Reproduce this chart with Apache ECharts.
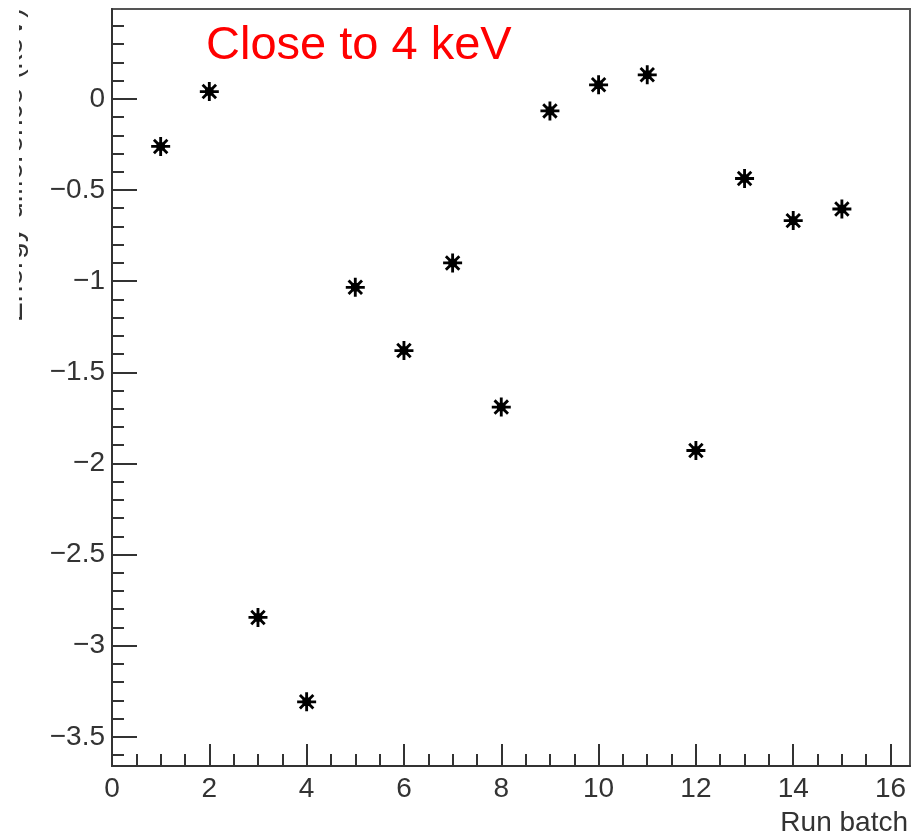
<!DOCTYPE html>
<html>
<head>
<meta charset="utf-8">
<script src="https://cdn.jsdelivr.net/npm/echarts@6/dist/echarts.min.js"></script>
<style>
html,body{margin:0;padding:0;background:#fff;}
#chart{width:913px;height:837px;}
</style>
</head>
<body>
<div id="chart"></div>
<script>
// ---- data ----
const runBatch = [1, 2, 3, 4, 5, 6, 7, 8, 9, 10, 11, 12, 13, 14, 15];
const energyDiff = [-0.261, 0.040, -2.845, -3.308, -1.034, -1.381, -0.900, -1.691, -0.066, 0.077, 0.132, -1.929, -0.437, -0.668, -0.604];

const xMajorTicks = [0, 2, 4, 6, 8, 10, 12, 14, 16];
const xTickLabels = ['0', '2', '4', '6', '8', '10', '12', '14', '16'];
const xMinorTicks = [0.5, 1, 1.5, 2.5, 3, 3.5, 4.5, 5, 5.5, 6.5, 7, 7.5, 8.5, 9, 9.5, 10.5, 11, 11.5, 12.5, 13, 13.5, 14.5, 15, 15.5];

const yMajorTicks = [0, -0.5, -1, -1.5, -2, -2.5, -3, -3.5];
const yTickLabels = ['0', '\u22120.5', '\u22121', '\u22121.5', '\u22122', '\u22122.5', '\u22123', '\u22123.5'];
const yMinorTicks = [0.4, 0.3, 0.2, 0.1, -0.1, -0.2, -0.3, -0.4, -0.6, -0.7, -0.8, -0.9, -1.1, -1.2, -1.3, -1.4,
  -1.6, -1.7, -1.8, -1.9, -2.1, -2.2, -2.3, -2.4, -2.6, -2.7, -2.8, -2.9, -3.1, -3.2, -3.3, -3.4, -3.6];

const xRange = [0, 16.4];
const yRange = [-3.66, 0.493];

const xTitle = 'Run batch';
const yTitle = 'Energy difference (keV)';
const annotation = 'Close to 4 keV';

// ---- chart ----
const FONT = '"Liberation Sans", Arial, Helvetica, sans-serif';
const AX = '#333';
const asterisk = 'path://M0 8.5L20 8.5L20 11.5L0 11.5Z M8.5 0L11.5 0L11.5 20L8.5 20Z ' +
  'M1.86 3.98L3.98 1.86L18.14 16.02L16.02 18.14Z M16.02 1.86L18.14 3.98L3.98 18.14L1.86 16.02Z M5.5 5.5L14.5 5.5L14.5 14.5L5.5 14.5Z';

const chart = echarts.init(document.getElementById('chart'), null, {renderer: 'canvas'});

function lab(vals, labels) {
  return function (v) {
    for (let i = 0; i < vals.length; i++) if (Math.abs(vals[i] - v) < 1e-9) return labels[i];
    return '';
  };
}

chart.setOption({
  animation: false,
  backgroundColor: '#fff',
  grid: {left: 112, right: 3, top: 9, bottom: 71, show: true, borderColor: '#555', borderWidth: 2, backgroundColor: 'transparent'},
  xAxis: [
    {
      type: 'value', min: xRange[0], max: xRange[1], position: 'bottom',
      splitLine: {show: false},
      axisLine: {show: true, onZero: false, lineStyle: {color: AX, width: 2}},
      axisTick: {show: true, inside: true, length: 22, customValues: xMajorTicks, lineStyle: {color: AX, width: 2}},
      axisLabel: {show: true, customValues: xMajorTicks, formatter: lab(xMajorTicks, xTickLabels),
        margin: 9, fontSize: 28, fontFamily: FONT, color: AX}
    },
    {
      type: 'value', min: xRange[0], max: xRange[1], position: 'bottom',
      splitLine: {show: false},
      axisLine: {show: false, onZero: false},
      axisTick: {show: true, inside: true, length: 12, customValues: xMinorTicks, lineStyle: {color: AX, width: 2}},
      axisLabel: {show: false}
    }
  ],
  yAxis: [
    {
      type: 'value', min: yRange[0], max: yRange[1], position: 'left',
      splitLine: {show: false},
      axisLine: {show: true, onZero: false, lineStyle: {color: AX, width: 2}},
      axisTick: {show: true, inside: true, length: 25, customValues: yMajorTicks, lineStyle: {color: AX, width: 2}},
      axisLabel: {show: true, customValues: yMajorTicks, formatter: lab(yMajorTicks, yTickLabels),
        margin: 7, fontSize: 28, fontFamily: FONT, color: AX}
    },
    {
      type: 'value', min: yRange[0], max: yRange[1], position: 'left',
      splitLine: {show: false},
      axisLine: {show: false, onZero: false},
      axisTick: {show: true, inside: true, length: 12, customValues: yMinorTicks, lineStyle: {color: AX, width: 2}},
      axisLabel: {show: false}
    }
  ],
  series: [{
    type: 'scatter',
    xAxisIndex: 0, yAxisIndex: 0,
    data: runBatch.map((x, i) => [x, energyDiff[i]]),
    symbol: asterisk,
    symbolSize: 19,
    itemStyle: {color: '#000', opacity: 1},
    z: 5
  }],
  graphic: [
    {type: 'text', left: 206, top: 23, z: 10,
      style: {text: annotation, font: '47px ' + FONT, fill: '#ff0000'}},
    {type: 'text', right: 5, top: 809, z: 10,
      style: {text: xTitle, font: '28px ' + FONT, fill: AX}},
    {type: 'text', x: 29, y: 165, rotation: Math.PI / 2, z: 10,
      style: {text: yTitle, font: '30px ' + FONT, fill: AX, align: 'center', verticalAlign: 'bottom'}},
    {type: 'rect', shape: {x: 0, y: 0, width: 19, height: 340}, z: 20,
      style: {fill: '#fff'}}
  ]
});
</script>
</body>
</html>
